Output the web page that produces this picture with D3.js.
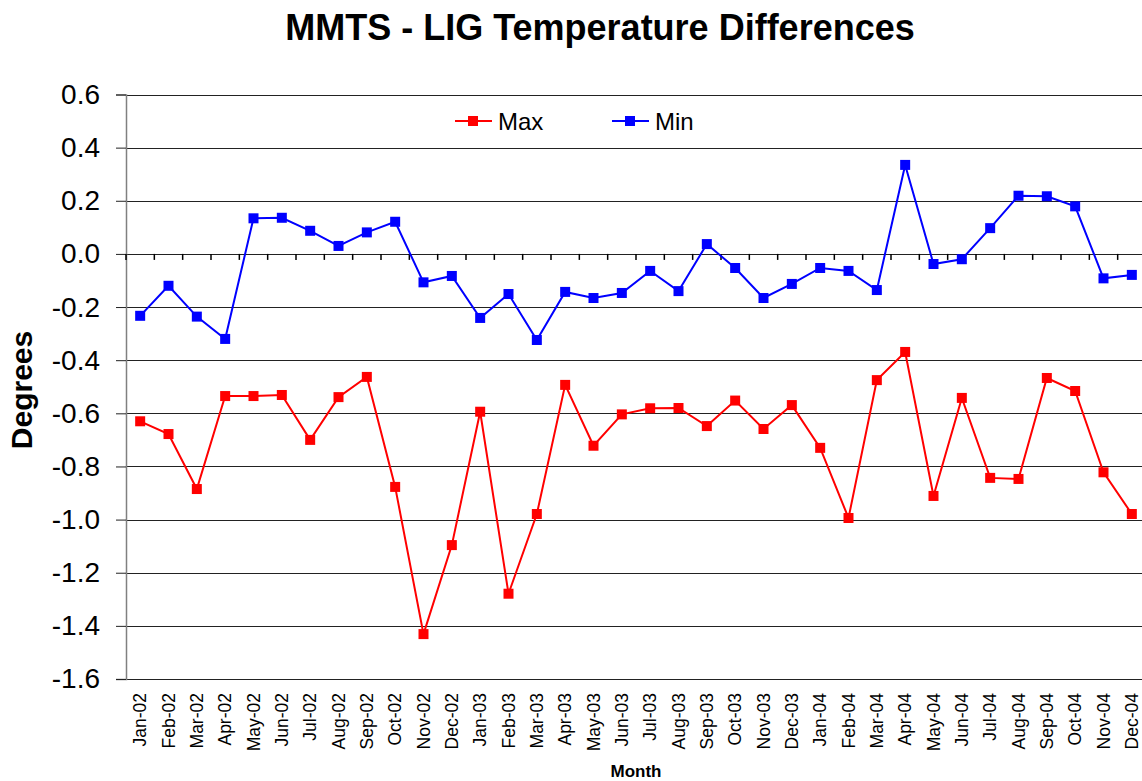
<!DOCTYPE html>
<html>
<head>
<meta charset="utf-8">
<script src="https://cdn.jsdelivr.net/npm/d3@7/dist/d3.min.js"></script>
<style>
  body { margin: 0; background: #fff; }
  text { font-family: "Liberation Sans", Arial, sans-serif; }
</style>
</head>
<body>
<svg id="chart" width="1142" height="781"></svg>
<script>
// month labels
const months = ["Jan-02","Feb-02","Mar-02","Apr-02","May-02","Jun-02","Jul-02","Aug-02","Sep-02","Oct-02","Nov-02","Dec-02",
  "Jan-03","Feb-03","Mar-03","Apr-03","May-03","Jun-03","Jul-03","Aug-03","Sep-03","Oct-03","Nov-03","Dec-03",
  "Jan-04","Feb-04","Mar-04","Apr-04","May-04","Jun-04","Jul-04","Aug-04","Sep-04","Oct-04","Nov-04","Dec-04"];

const maxValues = [-0.63,-0.678,-0.885,-0.535,-0.535,-0.531,-0.70,-0.539,-0.463,-0.877,-1.431,-1.096,
  -0.594,-1.279,-0.979,-0.493,-0.722,-0.604,-0.581,-0.58,-0.648,-0.552,-0.659,-0.569,
  -0.73,-0.994,-0.475,-0.369,-0.911,-0.542,-0.843,-0.847,-0.467,-0.516,-0.822,-0.979];

const minValues = [-0.233,-0.12,-0.236,-0.32,0.134,0.136,0.087,0.03,0.081,0.121,-0.107,-0.083,
  -0.241,-0.151,-0.324,-0.143,-0.166,-0.147,-0.064,-0.14,0.037,-0.053,-0.166,-0.113,
  -0.053,-0.064,-0.136,0.335,-0.038,-0.02,0.097,0.219,0.217,0.179,-0.092,-0.079];

const yTicks = [0.6,0.4,0.2,0.0,-0.2,-0.4,-0.6,-0.8,-1.0,-1.2,-1.4,-1.6];

const series = [
  { name: "Max", color: "#ff0000", values: maxValues },
  { name: "Min", color: "#0000ff", values: minValues }
];

const svg = d3.select("#chart");
const plotLeft = 126, plotRight = 1146, plotTop = 94.5, plotBottom = 679;

const x = d3.scaleBand().domain(months).range([plotLeft, plotRight]);
const y = d3.scaleLinear().domain([-1.6, 0.6]).range([plotBottom, plotTop]);

// gridlines
svg.append("g").selectAll("line").data(yTicks).join("line")
  .attr("x1", plotLeft).attr("x2", plotRight)
  .attr("y1", d => Math.round(y(d)) + 0.5).attr("y2", d => Math.round(y(d)) + 0.5)
  .attr("stroke", "#222").attr("stroke-width", 1.2);

// y axis
const yAxis = d3.axisLeft(y).tickValues(yTicks).tickSize(10).tickFormat(d => d3.format(".1f")(d).replace("−", "-"));
const gy = svg.append("g").attr("transform", `translate(${plotLeft},0)`).call(yAxis);
gy.select(".domain").attr("stroke", "#808080").attr("stroke-width", 1.5);
gy.selectAll(".tick line").attr("stroke", "#222");
gy.selectAll(".tick text").attr("font-size", 28).attr("x", -26).attr("fill", "#000")
  .attr("font-family", "Liberation Sans, Arial, sans-serif");

// x axis at zero with ticks at category borders
const borders = months.map(m => x(m)).concat([plotRight]);
svg.append("g").selectAll("line").data(borders).join("line")
  .attr("x1", d => d).attr("x2", d => d)
  .attr("y1", y(0)).attr("y2", y(0) + 6)
  .attr("stroke", "#000").attr("stroke-width", 1.5);

// month labels
svg.append("g").selectAll("text").data(months).join("text")
  .attr("transform", d => `translate(${x(d) + x.bandwidth() / 2 + 6.3},693) rotate(-90)`)
  .attr("text-anchor", "end")
  .attr("font-size", 17.5)
  .text(d => d);

// lines and markers
const line = d3.line().x((d, i) => x(months[i]) + x.bandwidth() / 2).y(d => y(d));
series.forEach(s => {
  svg.append("path").datum(s.values).attr("d", line)
    .attr("fill", "none").attr("stroke", s.color).attr("stroke-width", 2);
  svg.append("g").selectAll("rect").data(s.values).join("rect")
    .attr("x", (d, i) => x(months[i]) + x.bandwidth() / 2 - 5)
    .attr("y", d => y(d) - 5)
    .attr("width", 10).attr("height", 10)
    .attr("fill", s.color);
});

// legend
const legend = svg.append("g");
const legendX = [455, 612];
series.forEach((s, i) => {
  const g = legend.append("g").attr("transform", `translate(${legendX[i]},121)`);
  g.append("line").attr("x1", 0).attr("x2", 37).attr("stroke", s.color).attr("stroke-width", 2);
  g.append("rect").attr("x", 13).attr("y", -5).attr("width", 10).attr("height", 10).attr("fill", s.color);
  g.append("text").attr("x", 43).attr("y", 8.5).attr("font-size", 24).text(s.name);
});

// titles
svg.append("text").attr("x", 600).attr("y", 40).attr("text-anchor", "middle")
  .attr("font-size", 36).attr("font-weight", "bold").text("MMTS - LIG Temperature Differences");
svg.append("text").attr("transform", "translate(32,390) rotate(-90)").attr("text-anchor", "middle")
  .attr("font-size", 30).attr("font-weight", "bold").text("Degrees");
svg.append("text").attr("x", 636).attr("y", 777).attr("text-anchor", "middle")
  .attr("font-size", 17).attr("font-weight", "bold").text("Month");
</script>
</body>
</html>
